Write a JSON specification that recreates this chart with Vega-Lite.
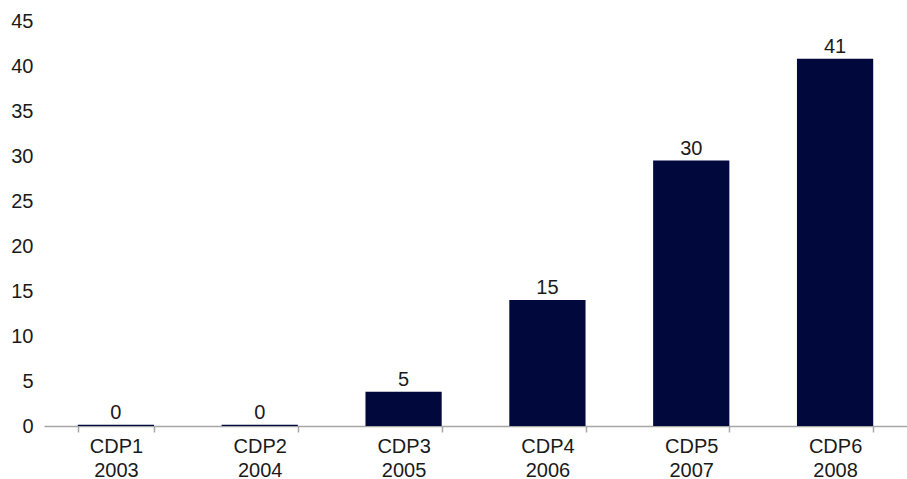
{
  "$schema": "https://vega.github.io/schema/vega-lite/v6.json",
  "autosize": {"type": "none"},
  "padding": {"left": 44, "top": 21, "right": 0, "bottom": 53},
  "width": 863,
  "height": 405,
  "background": "white",
  "config": {
    "view": {"stroke": null},
    "font": "Liberation Sans",
    "axis": {"labelFont": "Liberation Sans", "labelFontSize": 20, "labelColor": "#1a1a1a", "title": null}
  },
  "data": {
    "values": [
      {"cat": "CDP1 2003", "value": 0.15, "label": "0"},
      {"cat": "CDP2 2004", "value": 0.15, "label": "0"},
      {"cat": "CDP3 2005", "value": 3.8, "label": "5"},
      {"cat": "CDP4 2006", "value": 14.0, "label": "15"},
      {"cat": "CDP5 2007", "value": 29.5, "label": "30"},
      {"cat": "CDP6 2008", "value": 40.8, "label": "41"}
    ]
  },
  "encoding": {
    "x": {
      "field": "cat",
      "type": "nominal",
      "sort": null,
      "scale": {"paddingInner": 0.47, "paddingOuter": 0.235},
      "axis": {
        "labelAngle": 0,
        "labelExpr": "split(datum.label, ' ')",
        "labelLineHeight": 24,
        "labelPadding": 4,
        "tickBand": "extent",
        "tickSize": 6,
        "tickColor": "#a6a6a6",
        "domainColor": "#a6a6a6",
        "domainWidth": 1.5,
        "tickWidth": 1.5,
        "grid": false
      }
    },
    "y": {
      "field": "value",
      "type": "quantitative",
      "scale": {"domain": [0, 45], "nice": false},
      "axis": {
        "values": [0, 5, 10, 15, 20, 25, 30, 35, 40, 45],
        "domain": false,
        "ticks": false,
        "tickSize": 0,
        "grid": false,
        "labelPadding": 11
      }
    }
  },
  "layer": [
    {"mark": {"type": "bar", "color": "#00083c"}},
    {
      "mark": {"type": "text", "baseline": "bottom", "dy": -2, "fontSize": 20, "color": "#1a1a1a", "font": "Liberation Sans"},
      "encoding": {"text": {"field": "label"}}
    }
  ]
}
